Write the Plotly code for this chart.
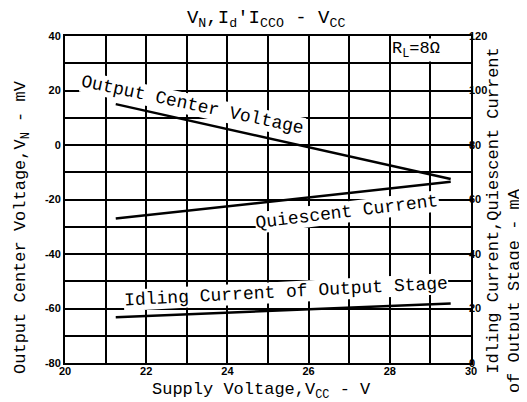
import plotly.graph_objects as go

# supply voltage (V) where the curves start and end
vcc = [21.25, 29.5]
# output center voltage, mV (left axis)
center_voltage = [15, -12.5]
# quiescent current, mA (right axis)
quiescent_current = [53, 66.5]
# idling current of output stage, mA (right axis)
idling_current = [16.8, 21.8]

x_ticks = [20, 22, 24, 26, 28, 30]
left_ticks = [40, 20, 0, -20, -40, -60, -80]
right_ticks = [120, 100, 80, 60, 40, 20, 0]

MONO = "Liberation Mono, Courier New, monospace"
TICKFONT = dict(family="Liberation Sans, Arial", size=11, color="black", weight="bold")

fig = go.Figure()

fig.add_trace(go.Scatter(
    x=vcc, y=center_voltage, mode="lines",
    line=dict(color="black", width=2.5), name="Output Center Voltage",
))
fig.add_trace(go.Scatter(
    x=vcc, y=quiescent_current, mode="lines", yaxis="y2",
    line=dict(color="black", width=2.5), name="Quiescent Current",
))
fig.add_trace(go.Scatter(
    x=vcc, y=idling_current, mode="lines", yaxis="y2",
    line=dict(color="black", width=2.5), name="Idling Current of Output Stage",
))

# curve labels (white boxes hide the grid behind them, like the datasheet)
labels = [
    ("Output Center Voltage", 23.15, 14.5, 12),
    ("Quiescent Current", 26.95, -24.5, -7),
    ("Idling Current of Output Stage", 25.45, -54.0, -3),
]
for text, x, y, ang in labels:
    fig.add_annotation(
        x=x, y=y, text=text, showarrow=False, textangle=ang,
        font=dict(family=MONO, size=18, color="black"),
        bgcolor="white", borderpad=0,
    )

fig.add_annotation(
    x=28.65, y=35.0, text="R<sub>L</sub>=8Ω", showarrow=False,
    font=dict(family=MONO, size=17, color="black"), bgcolor="white", borderpad=0,
)

# axis titles
fig.add_annotation(
    xref="paper", yref="paper", x=0.485, y=-0.087,
    xanchor="center", yanchor="middle",
    text="Supply Voltage,V<sub>CC</sub> - V", showarrow=False,
    font=dict(family=MONO, size=17, color="black"),
)
fig.add_annotation(
    xref="paper", yref="paper", x=-0.106, y=0.416, textangle=-90,
    xanchor="center", yanchor="middle",
    text="Output Center Voltage,V<sub>N</sub> - mV", showarrow=False,
    font=dict(family=MONO, size=17, color="black"),
)
fig.add_annotation(
    xref="paper", yref="paper", x=1.056, y=0.465, textangle=-90,
    xanchor="center", yanchor="middle",
    text="Idling Current,Quiescent Current", showarrow=False,
    font=dict(family=MONO, size=17, color="black"),
)
fig.add_annotation(
    xref="paper", yref="paper", x=1.106, y=0.22, textangle=-90,
    xanchor="center", yanchor="middle",
    text="of Output Stage - mA", showarrow=False,
    font=dict(family=MONO, size=17, color="black"),
)

fig.update_layout(
    width=527, height=402,
    margin=dict(l=57, r=64, t=28, b=47),
    paper_bgcolor="white", plot_bgcolor="white",
    showlegend=False,
    title=dict(
        text="V<sub>N</sub>,I<sub>d</sub>'I<sub>CCO</sub> - V<sub>CC</sub>",
        x=0.49, xanchor="center", y=0.995, yanchor="top",
        font=dict(family=MONO, size=19, color="black"),
    ),
    xaxis=dict(
        range=[20, 30], tickvals=x_ticks, ticktext=[str(v) for v in x_ticks], ticks="",
        showgrid=True, gridcolor="black", gridwidth=1.5,
        minor=dict(dtick=1, showgrid=True, gridcolor="black", gridwidth=1.5),
        showline=True, linecolor="black", linewidth=2, mirror=True,
        tickfont=TICKFONT, zeroline=False, ticklabelstandoff=-3,
    ),
    yaxis=dict(
        range=[-80, 40], tickvals=left_ticks, ticktext=[str(v) for v in left_ticks], ticks="",
        showgrid=True, gridcolor="black", gridwidth=1.5,
        minor=dict(dtick=10, showgrid=True, gridcolor="black", gridwidth=1.5),
        showline=True, linecolor="black", linewidth=2, mirror=True,
        tickfont=TICKFONT, zeroline=False,
    ),
    yaxis2=dict(
        range=[0, 120], tickvals=right_ticks, ticktext=[str(v) for v in right_ticks],
        overlaying="y", side="right",
        showgrid=False, zeroline=False, ticks="",
        tickfont=TICKFONT, ticklabelstandoff=-3,
    ),
)

fig.write_html("out.html")
